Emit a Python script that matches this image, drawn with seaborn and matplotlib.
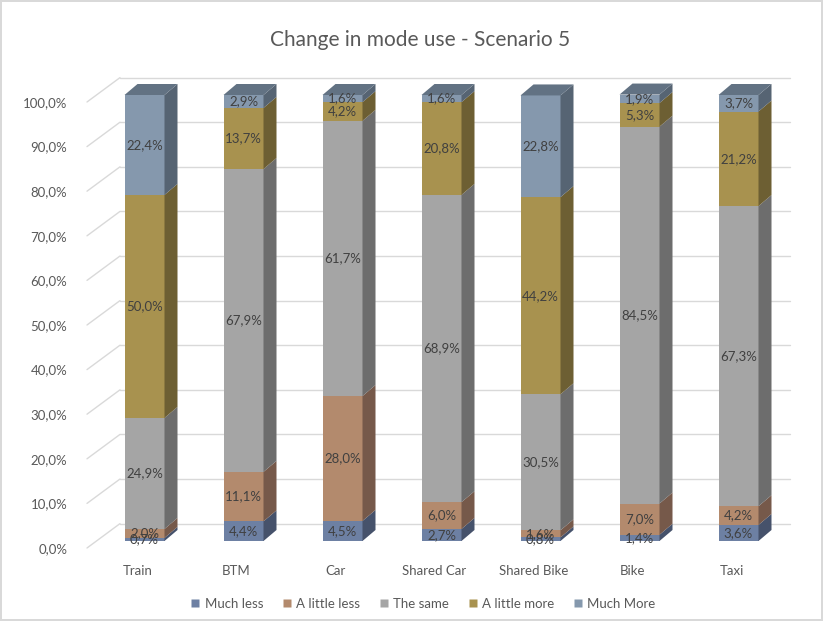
import matplotlib
matplotlib.use("Agg")
import matplotlib.pyplot as plt
import matplotlib.transforms as mtransforms
import seaborn as sns
import numpy as np
import pandas as pd
from matplotlib.patches import Polygon
from matplotlib.lines import Line2D

categories = ["Train", "BTM", "Car", "Shared Car", "Shared Bike", "Bike", "Taxi"]
series_names = ["Much less", "A little less", "The same", "A little more", "Much More"]
much_less = [0.7, 4.4, 4.5, 2.7, 0.8, 1.4, 3.6]
little_less = [2.0, 11.1, 28.0, 6.0, 1.6, 7.0, 4.2]
the_same = [24.9, 67.9, 61.7, 68.9, 30.5, 84.5, 67.3]
little_more = [50.0, 13.7, 4.2, 20.8, 44.2, 5.3, 21.2]
much_more = [22.4, 2.9, 1.6, 1.6, 22.8, 1.9, 3.7]
tick_values = [0, 10, 20, 30, 40, 50, 60, 70, 80, 90, 100]

front_colors = ["#6d80a3", "#b38a6d", "#a5a5a5", "#a8924f", "#8598ad"]
side_colors = ["#46526b", "#76594a", "#6d6d6d", "#6d5f33", "#566473"]
top_color = "#627283"

sns.set_theme(style="white")
plt.rcParams['font.family'] = ['Lato', 'DejaVu Sans']

W, H = 823, 621
fig = plt.figure(figsize=(W / 100, H / 100), dpi=100)
fig.patch.set_edgecolor("#d9d9d9")
fig.patch.set_linewidth(1.5)

ylo, yhi = -0.05, 1.08
ppy = 446.0
bottom_px = 541 + (0 - ylo) * ppy
top_px = 95 - (yhi - 1) * ppy
ax = fig.add_axes([95 / W, (H - bottom_px) / H, (788 - 95) / W, (bottom_px - top_px) / H])
ppx = (788 - 95) / 7.0

data = [much_less, little_less, the_same, little_more, much_more]
vals = np.array(data) / 100.0
cum = np.cumsum(vals, axis=0)

bw = 40 / ppx
dx = 13 / ppx
dy = 11 / ppy

# back wall gridlines
xb0 = -0.5 + 25 / ppx
xb1 = 6.5 + 2 / ppx
xl = -0.5 - 8 / ppx
for t in tick_values:
    v = t / 100.0
    ax.plot([xb0, xb1], [v + 0.039, v + 0.039], color="#d9d9d9", lw=1, zorder=0, clip_on=False)
    ax.plot([xl, xb0], [v - 7 / ppy, v + 0.039], color="#d9d9d9", lw=1, zorder=0, clip_on=False)

# stacked bars via seaborn (draw largest cumulative first)
for k in range(len(series_names) - 1, -1, -1):
    df = pd.DataFrame({"cat": categories, "val": cum[k]})
    sns.barplot(data=df, x="cat", y="val", color=front_colors[k], saturation=1,
                width=bw, edgecolor="none", linewidth=0, ax=ax, zorder=2, errorbar=None)

# 3D side and top faces
for i in range(len(categories)):
    xr = i + bw / 2
    for k in range(len(series_names)):
        y0 = cum[k][i] - vals[k][i]
        y1 = cum[k][i]
        side = Polygon([[xr, y0], [xr + dx, y0 + dy], [xr + dx, y1 + dy], [xr, y1]],
                       closed=True, facecolor=side_colors[k], edgecolor="none", zorder=2)
        ax.add_patch(side)
    ytop = cum[-1][i]
    top = Polygon([[i - bw / 2, ytop], [xr, ytop], [xr + dx, ytop + dy], [i - bw / 2 + dx, ytop + dy]],
                  closed=True, facecolor=top_color, edgecolor="none", zorder=2)
    ax.add_patch(top)
    for k in range(len(series_names)):
        yc = cum[k][i] - vals[k][i] / 2
        lbl = f"{data[k][i]:.1f}%".replace(".", ",")
        ax.text(i, yc, lbl, ha="center", va="center", fontsize=9.5, color="#404040", zorder=5)

ax.set_xlim(-0.5, 6.5)
ax.set_ylim(ylo, yhi)
ax.set_yticks([t / 100.0 - 7 / ppy for t in tick_values])
ax.set_yticklabels([f"{t:.1f}%".replace(".", ",") for t in tick_values])
ax.set_xticks(range(len(categories)))
ax.set_xticklabels(categories)
ax.tick_params(axis="y", length=0, pad=20, labelsize=9.5, labelcolor="#595959")
ax.tick_params(axis="x", length=0, pad=1, labelsize=9.5, labelcolor="#595959")
shift = mtransforms.ScaledTranslation(-7 / 100, 0, fig.dpi_scale_trans)
for lab in ax.get_xticklabels():
    lab.set_transform(lab.get_transform() + shift)
ax.set_xlabel("")
ax.set_ylabel("")
for s in ax.spines.values():
    s.set_visible(False)
ax.set_facecolor("none")

fig.text(420 / W, 1 - 40 / H, "Change in mode use - Scenario 5", ha="center", va="center",
         fontsize=15, color="#595959")

handles = [Line2D([0], [0], marker="s", linestyle="none", markersize=6,
                  markerfacecolor=c, markeredgecolor="none") for c in front_colors]
fig.legend(handles, series_names, loc="center", bbox_to_anchor=(422 / W, 1 - 604 / H),
           ncol=5, frameon=False, fontsize=9.5, labelcolor="#595959",
           handletextpad=0.2, columnspacing=1.3, handlelength=1.0)

fig.savefig("out.png", dpi=100)
